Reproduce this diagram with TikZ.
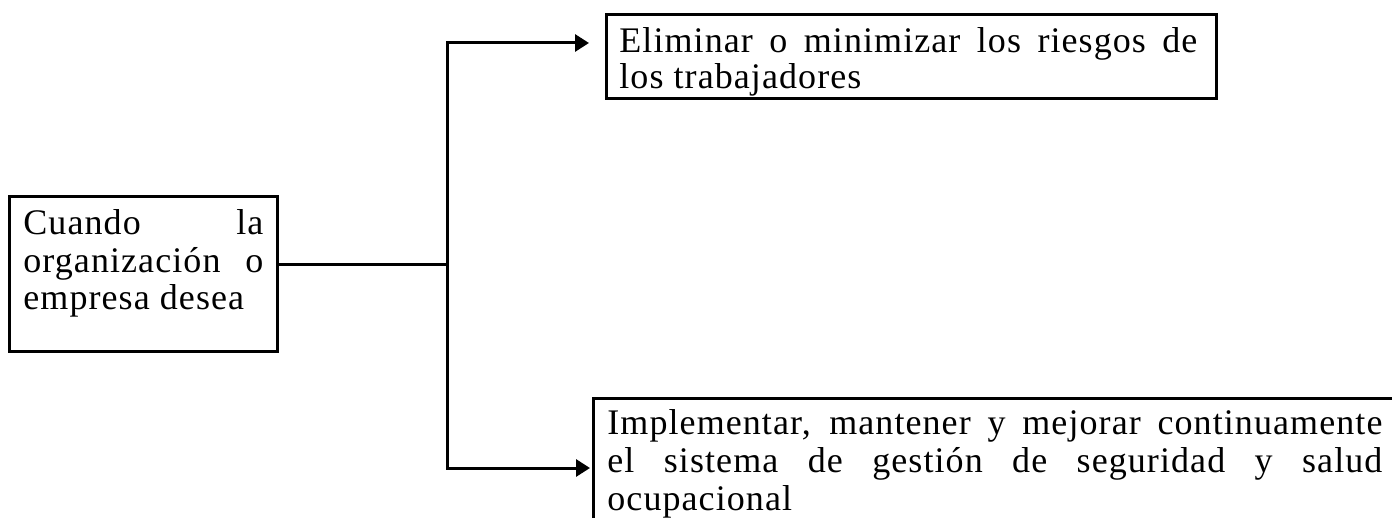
\documentclass[tikz,border=0pt]{standalone}
\usepackage{fontspec}
\setmainfont{Liberation Serif}[LetterSpace=3]
\usetikzlibrary{arrows.meta}
\tikzset{
  box/.style={draw=black, line width=1.5pt, rectangle, inner sep=0pt, anchor=north west},
  txt/.style={anchor=base west, inner sep=0pt, font=\fontsize{18pt}{18pt}\selectfont},
  link/.style={draw=black, line width=1.5pt},
  arr/.style={link, -{Triangle[length=7pt,width=8.5pt]}}
}
\begin{document}
\begin{tikzpicture}[x=0.5pt,y=-0.5pt]
\useasboundingbox (0,0) rectangle (1392,518);
\clip (0,0) rectangle (1392,518);
% boxes
\node[box, minimum width=134pt, minimum height=77.5pt] (src) at (8,195) {};
\node[box, minimum width=305pt, minimum height=42pt] (top) at (605,13) {};
\node[box, minimum width=410pt, minimum height=80pt] (bot) at (592,397) {};
% texts
\node[txt] (s1) at (23,235) {\makebox[120pt][s]{Cuando la}};
\node[txt] (s2) at (23,272) {\makebox[120pt][s]{organización o}};
\node[txt] (s3) at (23,309) {empresa desea};
\node[txt] (t1) at (619,53) {\makebox[289pt][s]{Eliminar o minimizar los riesgos de}};
\node[txt] (t2) at (619,89) {los trabajadores};
\node[txt] (b1) at (607,434) {\makebox[387.5pt][s]{Implementar, mantener y mejorar continuamente}};
\node[txt] (b2) at (607,472) {\makebox[387.5pt][s]{el sistema de gestión de seguridad y salud}};
\node[txt] (b3) at (607,510) {ocupacional};
% connectors
\coordinate (j) at (447,265);
\coordinate (ta) at (589,43);
\coordinate (ba) at (590,468);
\draw[link] (j -| src.east) -- (j);
\draw[arr] (j) |- (ta);
\draw[arr] (j) |- (ba);
\end{tikzpicture}
\end{document}
